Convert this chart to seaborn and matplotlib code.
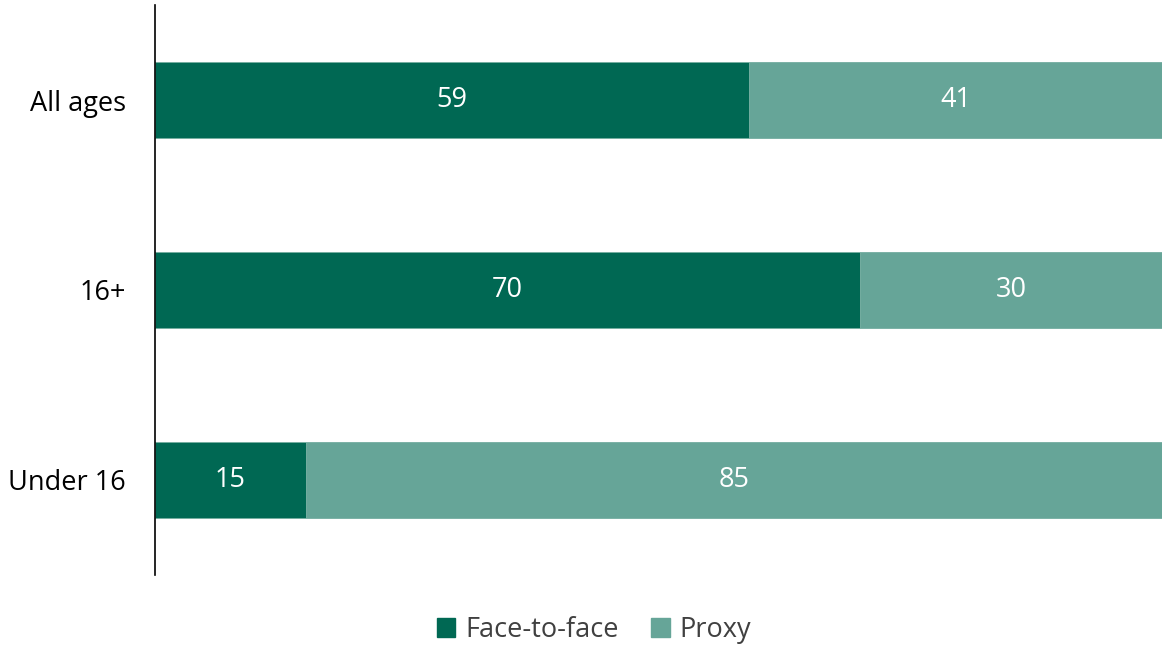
import matplotlib
matplotlib.use("Agg")
import matplotlib.pyplot as plt
import seaborn as sns
import pandas as pd
from matplotlib.patches import Patch

sns.set_theme(style="white")
plt.rcParams['font.family'] = ['Open Sans', 'DejaVu Sans']

# data
groups = ["All ages", "16+", "Under 16"]
face_to_face = [59, 70, 15]
proxy = [41, 30, 85]

dark = "#006853"
light = "#66a598"

df = pd.DataFrame({"group": groups, "face": face_to_face, "proxy": proxy})
df["total"] = df["face"] + df["proxy"]

fig = plt.figure(figsize=(11.62, 6.46), dpi=100)
ax = fig.add_axes([155/1162, 1-575/646, 1-155/1162, 570/646])

# stacked bars: full length first, then face-to-face on top
sns.barplot(data=df, x="total", y="group", color=light, width=0.4,
            saturation=1, ax=ax, orient="h", linewidth=0.5, edgecolor=light)
sns.barplot(data=df, x="face", y="group", color=dark, width=0.4,
            saturation=1, ax=ax, orient="h", linewidth=0.5, edgecolor="#8fbdb2")

fs = 19.5
# value labels in the middle of each segment
for i, row in df.iterrows():
    ax.text(row["face"]/2, i, str(row["face"]), color="white", fontsize=fs,
            ha="center", va="center")
    ax.text(row["face"] + row["proxy"]/2, i, str(row["proxy"]), color="white",
            fontsize=fs, ha="center", va="center")

ax.set_xlim(0, 100)
ax.set_ylim(2.5, -0.5)
ax.set_xlabel("")
ax.set_ylabel("")
ax.set_xticks([])
ax.tick_params(axis="y", length=0, pad=21, labelsize=fs, labelcolor="black")
for s in ["top", "right", "bottom"]:
    ax.spines[s].set_visible(False)
ax.spines["left"].set_color("black")
ax.spines["left"].set_linewidth(1.2)

handles = [Patch(color=dark, label="Face-to-face"), Patch(color=light, label="Proxy")]
leg = fig.legend(handles=handles, loc="center", bbox_to_anchor=(0.511, 1-630/646),
                 ncol=2, frameon=False, fontsize=fs, handlelength=0.7,
                 handleheight=0.7, handletextpad=0.35, columnspacing=1.2)
for t in leg.get_texts():
    t.set_color("#404040")

fig.savefig("out.png", dpi=100)
